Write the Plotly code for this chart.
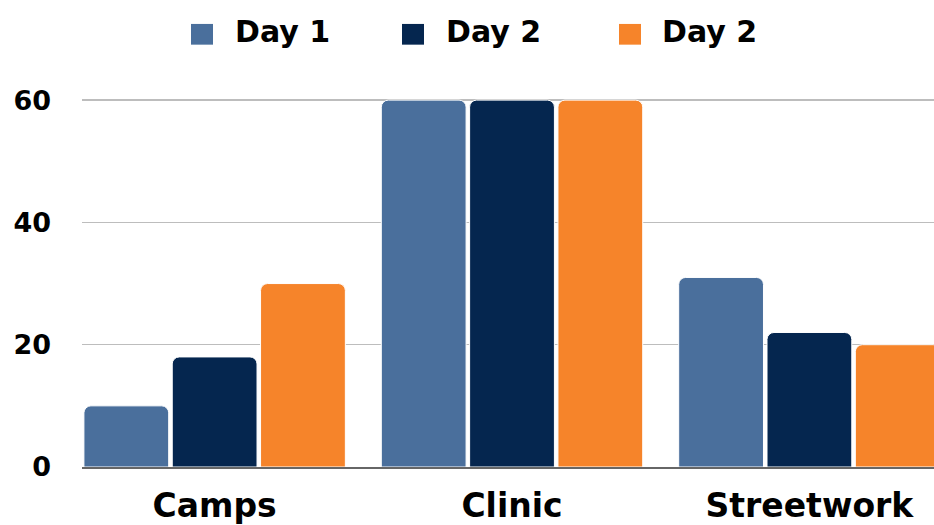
import plotly.graph_objects as go

categories = ["Camps", "Clinic", "Streetwork"]
series_names = ["Day 1", "Day 2", "Day 2"]
day1 = [10, 60, 31]
day2 = [18, 60, 22]
day3 = [30, 60, 20]
series_values = [day1, day2, day3]
colors = ["#4A6F9C", "#05264F", "#F6842A"]
y_ticks = [0, 20, 40, 60]

W, H = 934, 525
ML, MR, MT, MB = 82, 0, 94, 53
FONT = "DejaVu Sans"

fig = go.Figure()
for name, vals, col in zip(series_names, series_values, colors):
    fig.add_trace(go.Bar(
        x=categories, y=vals, name=name, showlegend=False, hoverinfo="skip",
        marker=dict(color=col, line=dict(color="white", width=1)),
    ))

pw = W - ML - MR
ph = H - MT - MB


def px_to_paper(px, py):
    return (px - ML) / pw, (H - MB - py) / ph


shapes = []
annotations = []
legend_sq_x = [191, 402, 619]
legend_txt_x = [233, 444, 660]
for name, col, sx, tx in zip(series_names, colors, legend_sq_x, legend_txt_x):
    x0, y0 = px_to_paper(sx, 44)
    x1, y1 = px_to_paper(sx + 22, 23)
    shapes.append(dict(type="rect", xref="paper", yref="paper",
                       x0=x0, y0=y0, x1=x1, y1=y1,
                       fillcolor=col, line=dict(width=0), layer="above"))
    ax, ay = px_to_paper(tx, 31)
    annotations.append(dict(text=name, xref="paper", yref="paper",
                            x=ax, y=ay, xanchor="left", yanchor="middle",
                            showarrow=False,
                            font=dict(family=FONT, size=30, color="#000", weight="bold")))

fig.update_layout(
    width=W, height=H,
    margin=dict(l=ML, r=MR, t=MT, b=MB),
    paper_bgcolor="white", plot_bgcolor="white",
    barmode="group", bargap=0.109, bargroupgap=0.04,
    barcornerradius=7,
    showlegend=False,
    hovermode=False,
    shapes=shapes, annotations=annotations,
    font=dict(family=FONT, color="#000"),
    xaxis=dict(
        range=[-0.446, 2.419],
        showgrid=False, showline=True, linecolor="#666", linewidth=2,
        ticks="", tickfont=dict(family=FONT, size=33, color="#000", weight="bold"),
        ticklabelstandoff=8,
    ),
    yaxis=dict(
        range=[0, 61], tickvals=y_ticks,
        showgrid=True, gridcolor="#BDBDBD", gridwidth=1.5,
        zeroline=False, showline=False, ticks="",
        tickfont=dict(family=FONT, size=27, color="#000", weight="bold"),
        ticklabelstandoff=30,
    ),
)

fig.write_html("out.html",
               config={"displayModeBar": False, "staticPlot": True},
               post_script="document.body.style.margin='0px';"
                           "document.body.style.overflow='hidden';")
